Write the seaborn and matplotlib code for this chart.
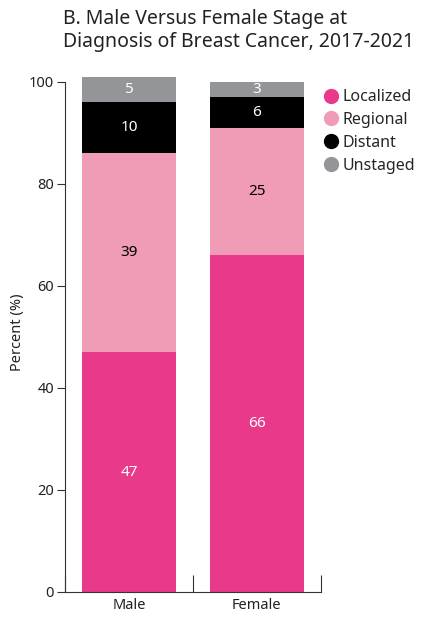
import matplotlib
matplotlib.use("Agg")
import matplotlib.pyplot as plt
import seaborn as sns
import numpy as np
import pandas as pd
from matplotlib.lines import Line2D

groups = ["Male", "Female"]
stages = ["Localized", "Regional", "Distant", "Unstaged"]
localized = [47, 66]
regional = [39, 25]
distant = [10, 6]
unstaged = [5, 3]
colors = ["#E8398A", "#F09CB6", "#000000", "#939598"]
label_colors = ["white", "black", "white", "white"]
yticks = [0, 20, 40, 60, 80, 100]

sns.set_theme(style="white")
plt.rcParams["font.family"] = ["Noto Sans", "DejaVu Sans"]

fig = plt.figure(figsize=(4.25, 6.24), dpi=100)
ax = fig.add_axes([0.153, 0.0513, 0.602, 0.834])

series = [localized, regional, distant, unstaged]
cum = np.cumsum(np.array(series), axis=0)
df = pd.DataFrame({"group": groups})

# draw from top stage down so each overlaps the previous
for i in range(len(stages) - 1, -1, -1):
    df["top"] = cum[i]
    sns.barplot(data=df, x="group", y="top", color=colors[i], width=0.73,
                ax=ax, saturation=1, order=groups, linewidth=0, edgecolor="none")

containers = ax.containers[::-1]
for i, cont in enumerate(containers):
    bottoms = cum[i - 1] if i > 0 else np.zeros(len(groups))
    for j, bar in enumerate(cont):
        yc = (bottoms[j] + cum[i][j]) / 2
        ax.text(bar.get_x() + bar.get_width() / 2, yc, str(series[i][j]),
                ha="center", va="center", color=label_colors[i], fontsize=11)

ax.set_xlim(-0.5, 1.5)
ax.set_ylim(0, 102)
ax.set_yticks(yticks)
ax.set_yticklabels([str(t) for t in yticks], fontsize=10.5, color="#222222")
ax.set_xlabel("")
ax.set_ylabel("Percent (%)", fontsize=10.5, color="#222222", labelpad=3)
ax.tick_params(axis="y", direction="out", length=6, width=0.8, color="#333333", pad=2, left=True)
ax.tick_params(axis="x", which="major", length=0, labelsize=10.5, labelcolor="#222222", pad=4)
ax.set_xticks([-0.5, 0.5, 1.5], minor=True)
ax.tick_params(axis="x", which="minor", direction="in", length=12, width=0.8, color="#333333", bottom=True)

for s in ["top", "right"]:
    ax.spines[s].set_visible(False)
for s in ["left", "bottom"]:
    ax.spines[s].set_color("#333333")
    ax.spines[s].set_linewidth(0.8)
ax.spines["left"].set_bounds(0, 100)

handles = [Line2D([], [], marker="o", linestyle="", markersize=10,
                  markerfacecolor=c, markeredgecolor=c) for c in colors]
fig.legend(handles, stages, loc="upper left", bbox_to_anchor=(0.745, 0.867),
           frameon=False, fontsize=11.5, handletextpad=0.2, labelspacing=0.42,
           borderaxespad=0, handlelength=1.0)

fig.text(0.148, 0.985, "B. Male Versus Female Stage at\nDiagnosis of Breast Cancer, 2017-2021",
         ha="left", va="top", fontsize=14, color="#222222", linespacing=1.2)

fig.savefig("out.png", dpi=100)
